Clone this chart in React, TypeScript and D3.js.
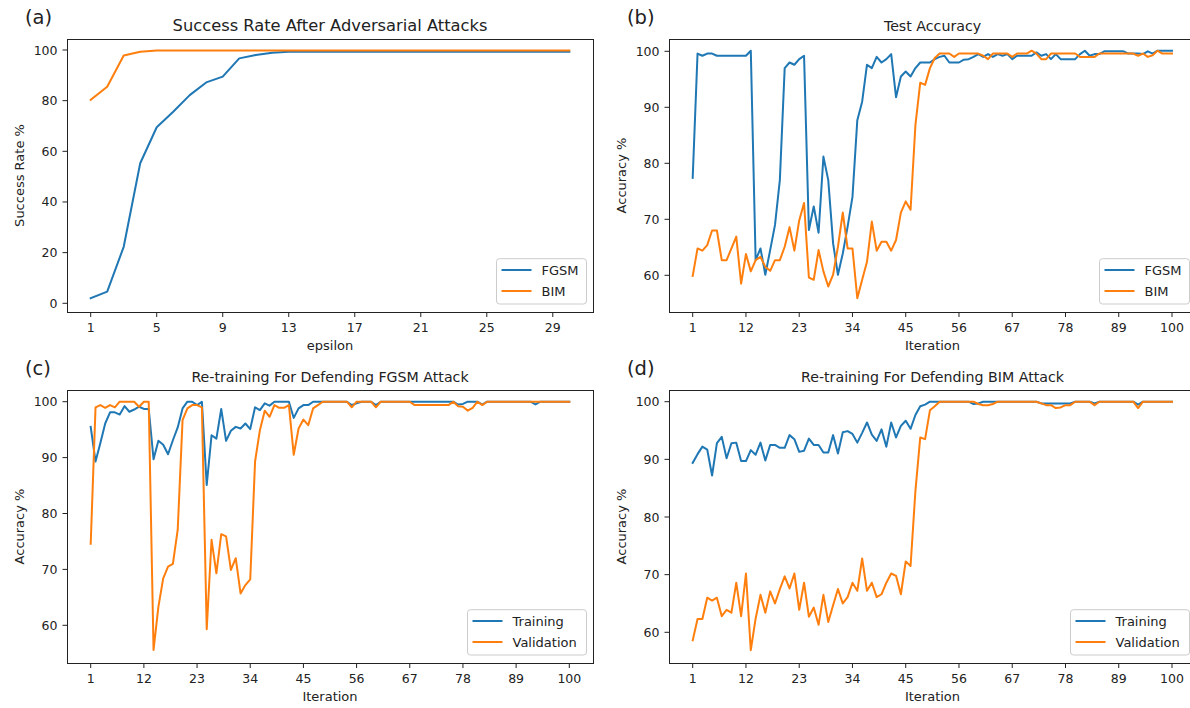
import React from 'react';
import * as d3 from 'd3';

// (a) success rate vs epsilon
const epsilons = d3.range(1, 31);
const epsilonTicks = [1, 5, 9, 13, 17, 21, 25, 29];
const successTicks = [0, 20, 40, 60, 80, 100];
const successFgsm = [
  2.0, 4.6, 22.3, 55.3, 69.5, 75.6, 82.2, 87.2, 89.5, 96.7,
  98.0, 98.9, 99.3, 99.3, 99.3, 99.3, 99.3, 99.3, 99.3, 99.3,
  99.3, 99.3, 99.3, 99.3, 99.3, 99.3, 99.3, 99.3, 99.3, 99.3,
];
const successBim = [
  80.3, 85.5, 97.8, 99.3, 99.8, 99.8, 99.8, 99.8, 99.8, 99.8,
  99.8, 99.8, 99.8, 99.8, 99.8, 99.8, 99.8, 99.8, 99.8, 99.8,
  99.8, 99.8, 99.8, 99.8, 99.8, 99.8, 99.8, 99.8, 99.8, 99.8,
];

// (b)-(d) accuracy vs iteration
const iterations = d3.range(1, 101);
const iterationTicks = [1, 12, 23, 34, 45, 56, 67, 78, 89, 100];
const accuracyTicks = [60, 70, 80, 90, 100];

const testFgsm = [
  77.4, 99.6, 99.2, 99.6, 99.6, 99.2, 99.2, 99.2, 99.2, 99.2,
  99.2, 99.2, 100.1, 62.7, 64.8, 60.1, 64.5, 69.0, 77.0, 97.0,
  98.0, 97.6, 98.6, 99.2, 68.1, 72.3, 67.6, 81.2, 77.0, 65.7,
  60.1, 63.9, 68.7, 74.0, 87.7, 91.0, 97.6, 97.0, 99.0, 98.0,
  98.6, 99.5, 91.8, 95.5, 96.4, 95.5, 97.0, 98.0, 98.0, 98.0,
  98.6, 99.0, 99.2, 98.0, 98.0, 98.0, 98.5, 98.6, 99.0, 99.5,
  99.0, 99.5, 99.0, 99.5, 99.2, 99.5, 98.6, 99.2, 99.2, 99.2,
  99.2, 99.8, 99.2, 99.5, 98.6, 99.5, 98.6, 98.6, 98.6, 98.6,
  99.5, 100.1, 99.2, 99.5, 99.5, 100.0, 100.0, 100.0, 100.0, 100.0,
  99.6, 99.6, 99.6, 99.5, 100.0, 99.6, 100.1, 100.1, 100.1, 100.1,
];
const testBim = [
  59.9, 64.8, 64.4, 65.4, 68.0, 68.0, 62.7, 62.7, 64.8, 66.9,
  58.5, 63.8, 60.7, 62.7, 63.3, 61.5, 60.8, 62.7, 62.7, 65.1,
  68.6, 64.4, 69.8, 72.9, 59.6, 59.2, 64.5, 60.7, 58.0, 60.1,
  65.1, 71.2, 64.8, 64.8, 55.9, 59.2, 62.4, 69.6, 64.4, 66.0,
  66.0, 64.4, 66.3, 71.2, 73.2, 71.7, 86.8, 94.4, 94.0, 97.0,
  98.8, 99.6, 99.6, 99.6, 99.0, 99.6, 99.6, 99.6, 99.6, 99.6,
  99.2, 98.6, 99.6, 99.6, 99.6, 99.6, 99.0, 99.6, 99.6, 99.6,
  100.1, 99.6, 98.6, 98.6, 99.6, 99.6, 99.6, 99.6, 99.6, 99.6,
  99.0, 99.0, 99.0, 99.0, 99.6, 99.6, 99.6, 99.6, 99.6, 99.6,
  99.6, 99.6, 99.2, 99.6, 99.0, 99.3, 100.1, 99.6, 99.6, 99.6,
];

const fgsmTraining = [
  95.5, 89.3, 92.6, 96.1, 98.1, 98.1, 97.7, 99.2, 98.2, 98.6,
  99.1, 98.7, 98.7, 89.7, 93.0, 92.3, 90.6, 93.1, 95.4, 98.8,
  100, 100, 99.4, 100, 85.1, 94.0, 93.4, 98.7, 93.0, 94.8,
  95.5, 95.2, 96.1, 95.1, 99.0, 98.5, 99.7, 99.3, 100, 100,
  100, 100, 97.1, 98.8, 99.4, 99.4, 100, 100, 100, 100,
  100, 100, 100, 100, 99.4, 99.7, 100, 100, 100, 99.4,
  100, 100, 100, 100, 100, 100, 100, 100, 100, 100,
  100, 100, 100, 100, 100, 100, 99.5, 99.6, 100, 100,
  100, 99.5, 100, 100, 100, 100, 100, 100, 100, 100,
  100, 100, 99.5, 100, 100, 100, 100, 100, 100, 100,
];
const fgsmValidation = [
  74.6, 99.0, 99.4, 98.9, 99.4, 99.0, 100, 100, 100, 100,
  99.1, 100, 100, 55.6, 63.3, 68.4, 70.5, 71.0, 77.1, 96.7,
  98.8, 99.4, 99.4, 99.0, 59.3, 75.3, 69.3, 76.3, 75.9, 69.9,
  72.0, 65.7, 67.2, 68.2, 89.3, 94.9, 98.4, 97.3, 99.4, 98.9,
  98.9, 99.4, 90.5, 95.2, 96.8, 95.8, 98.8, 99.4, 100, 100,
  100, 100, 100, 100, 99.0, 100, 100, 100, 100, 99.0,
  100, 100, 100, 100, 100, 100, 100, 99.4, 99.4, 99.4,
  99.4, 99.4, 99.4, 99.4, 99.4, 100, 99.2, 99.1, 98.4, 98.9,
  100, 99.4, 100, 100, 100, 100, 100, 100, 100, 100,
  100, 100, 100, 100, 100, 100, 100, 100, 100, 100,
];

const bimTraining = [
  89.4, 90.9, 92.2, 91.7, 87.2, 92.8, 93.9, 90.2, 92.8, 92.9,
  89.7, 89.7, 91.6, 90.8, 92.9, 89.8, 92.5, 92.5, 92.0, 92.0,
  94.2, 93.5, 91.3, 91.5, 93.6, 92.5, 92.5, 91.2, 91.2, 94.2,
  91.0, 94.7, 94.9, 94.4, 92.9, 94.6, 96.4, 94.3, 93.2, 95.2,
  92.2, 96.4, 93.8, 95.8, 96.7, 95.3, 97.7, 99.2, 99.5, 100,
  100, 100, 100, 100, 100, 100, 100, 100, 99.6, 99.7,
  100, 100, 100, 100, 100, 100, 100, 100, 100, 100,
  100, 100, 99.7, 99.7, 99.7, 99.7, 99.7, 99.7, 99.7, 100,
  100, 100, 100, 99.7, 100, 100, 100, 100, 100, 100,
  100, 100, 99.5, 100, 100, 100, 100, 100, 100, 100,
];
const bimValidation = [
  58.6, 62.3, 62.3, 66.0, 65.5, 66.0, 62.8, 63.9, 63.4, 68.6,
  62.8, 70.2, 56.9, 62.4, 66.5, 63.4, 67.1, 65.0, 67.5, 69.7,
  67.6, 70.2, 63.9, 68.6, 62.7, 64.3, 61.3, 66.5, 61.8, 64.7,
  67.5, 65.0, 66.1, 68.6, 67.2, 72.8, 67.2, 68.6, 66.1, 66.6,
  68.6, 70.2, 69.8, 66.6, 72.3, 71.5, 84.5, 93.8, 93.5, 98.5,
  99.2, 100, 100, 100, 100, 100, 100, 100, 100, 99.6,
  99.4, 99.4, 99.6, 100, 100, 100, 100, 100, 100, 100,
  100, 100, 99.7, 99.4, 99.4, 98.9, 99.0, 99.4, 99.4, 100,
  100, 100, 100, 99.4, 100, 100, 100, 100, 100, 100,
  100, 100, 98.9, 100, 100, 100, 100, 100, 100, 100,
];

const BLUE = '#1f77b4';
const ORANGE = '#ff7f0e';
const FONT = '"DejaVu Sans", "Liberation Sans", sans-serif';
const INK = '#222';

type Series = { name: string; values: number[]; color: string };

type PanelProps = {
  box: { left: number; right: number; top: number; bottom: number };
  x: d3.ScaleLinear<number, number>;
  y: d3.ScaleLinear<number, number>;
  xValues: number[];
  xTicks: number[];
  yTicks: number[];
  series: Series[];
  tag: string;
  title: string;
  titleSize?: number;
  xLabel: string;
  yLabel: string;
  legendWidth: number;
};

function Panel(props: PanelProps) {
  const { box, x, y, xValues, xTicks, yTicks, series, tag, title, xLabel, yLabel, legendWidth } = props;
  const titleSize = props.titleSize ?? 14.2;
  const line = d3.line<number>()
    .x((_, i) => x(xValues[i]))
    .y(d => y(d));
  const midX = (box.left + box.right) / 2;
  const midY = (box.top + box.bottom) / 2;
  const legRight = box.right - 6.5;
  const legBottom = box.bottom - 8;
  const legTop = legBottom - 45.3;
  const legLeft = legRight - legendWidth;

  return (
    <g fontFamily={FONT} fill={INK}>
      <text x={box.left - 42} y={box.top - 15} fontSize={19.5}>{tag}</text>
      <text x={midX} y={box.top - 8} fontSize={titleSize} textAnchor="middle">{title}</text>

      {series.map(s => (
        <path key={s.name} d={line(s.values) || ''} fill="none" stroke={s.color}
          strokeWidth={2} strokeLinejoin="round" strokeLinecap="square" />
      ))}

      <rect x={box.left + 0.5} y={box.top + 0.5} width={box.right - box.left} height={box.bottom - box.top}
        fill="none" stroke={INK} strokeWidth={1} />

      {xTicks.map(t => (
        <g key={'x' + t} transform={`translate(${x(t)},${box.bottom})`}>
          <line y1={0.5} y2={5} stroke={INK} />
          <text y={20} fontSize={12.5} textAnchor="middle">{t}</text>
        </g>
      ))}
      {yTicks.map(t => (
        <g key={'y' + t} transform={`translate(${box.left},${y(t)})`}>
          <line x1={0} x2={-4.5} stroke={INK} />
          <text x={-9.5} dy="0.36em" fontSize={12.5} textAnchor="end">{t}</text>
        </g>
      ))}

      <text x={midX} y={box.bottom + 38} fontSize={13} textAnchor="middle">{xLabel}</text>
      <text transform={`translate(${box.left - 43.5},${midY}) rotate(-90)`} fontSize={13}
        textAnchor="middle">{yLabel}</text>

      <rect x={legLeft} y={legTop} width={legendWidth} height={45.3} rx={3}
        fill="#fff" fillOpacity={0.8} stroke="#ccc" />
      {series.map((s, i) => (
        <g key={'leg' + s.name} transform={`translate(${legLeft},${legTop + 11.3 + i * 21})`}>
          <line x1={5} x2={35} stroke={s.color} strokeWidth={2} />
          <text x={45} dy="0.36em" fontSize={13}>{s.name}</text>
        </g>
      ))}
    </g>
  );
}

export default function App() {
  const leftCol = { left: 67, right: 593 };
  const rightCol = { left: 669, right: 1196 };
  const topRow = { top: 39, bottom: 312 };
  const bottomRow = { top: 390, bottom: 663 };

  const xEps = d3.scaleLinear().domain([1, 30]).range([90.7, 569.3]);
  const xIterLeft = d3.scaleLinear().domain([1, 100]).range([90.7, 569.3]);
  const xIterRight = d3.scaleLinear().domain([1, 100]).range([692.7, 1172]);

  const yA = d3.scaleLinear().domain([0, 100]).range([303.3, 50]);
  const yB = d3.scaleLinear().domain([60, 100]).range([275.3, 51.3]);
  const yC = d3.scaleLinear().domain([60, 100]).range([625.3, 401.7]);
  const yD = d3.scaleLinear().domain([60, 100]).range([632.3, 401.7]);

  return (
    <svg width={1190} height={708} style={{ position: 'absolute', left: 0, top: 0, background: '#fff' }}>
      <rect width={1190} height={708} fill="#fff" />
      <Panel box={{ ...leftCol, ...topRow }} x={xEps} y={yA} xValues={epsilons}
        xTicks={epsilonTicks} yTicks={successTicks}
        series={[{ name: 'FGSM', values: successFgsm, color: BLUE }, { name: 'BIM', values: successBim, color: ORANGE }]}
        tag="(a)" title="Success Rate After Adversarial Attacks" titleSize={16.3}
        xLabel="epsilon" yLabel="Success Rate %" legendWidth={90} />
      <Panel box={{ ...rightCol, ...topRow }} x={xIterRight} y={yB} xValues={iterations}
        xTicks={iterationTicks} yTicks={accuracyTicks}
        series={[{ name: 'FGSM', values: testFgsm, color: BLUE }, { name: 'BIM', values: testBim, color: ORANGE }]}
        tag="(b)" title="Test Accuracy" xLabel="Iteration" yLabel="Accuracy %"
        legendWidth={90} />
      <Panel box={{ ...leftCol, ...bottomRow }} x={xIterLeft} y={yC} xValues={iterations}
        xTicks={iterationTicks} yTicks={accuracyTicks}
        series={[{ name: 'Training', values: fgsmTraining, color: BLUE }, { name: 'Validation', values: fgsmValidation, color: ORANGE }]}
        tag="(c)" title="Re-training For Defending FGSM Attack" xLabel="Iteration" yLabel="Accuracy %"
        legendWidth={119} />
      <Panel box={{ ...rightCol, ...bottomRow }} x={xIterRight} y={yD} xValues={iterations}
        xTicks={iterationTicks} yTicks={accuracyTicks}
        series={[{ name: 'Training', values: bimTraining, color: BLUE }, { name: 'Validation', values: bimValidation, color: ORANGE }]}
        tag="(d)" title="Re-training For Defending BIM Attack" xLabel="Iteration" yLabel="Accuracy %"
        legendWidth={119} />
    </svg>
  );
}
